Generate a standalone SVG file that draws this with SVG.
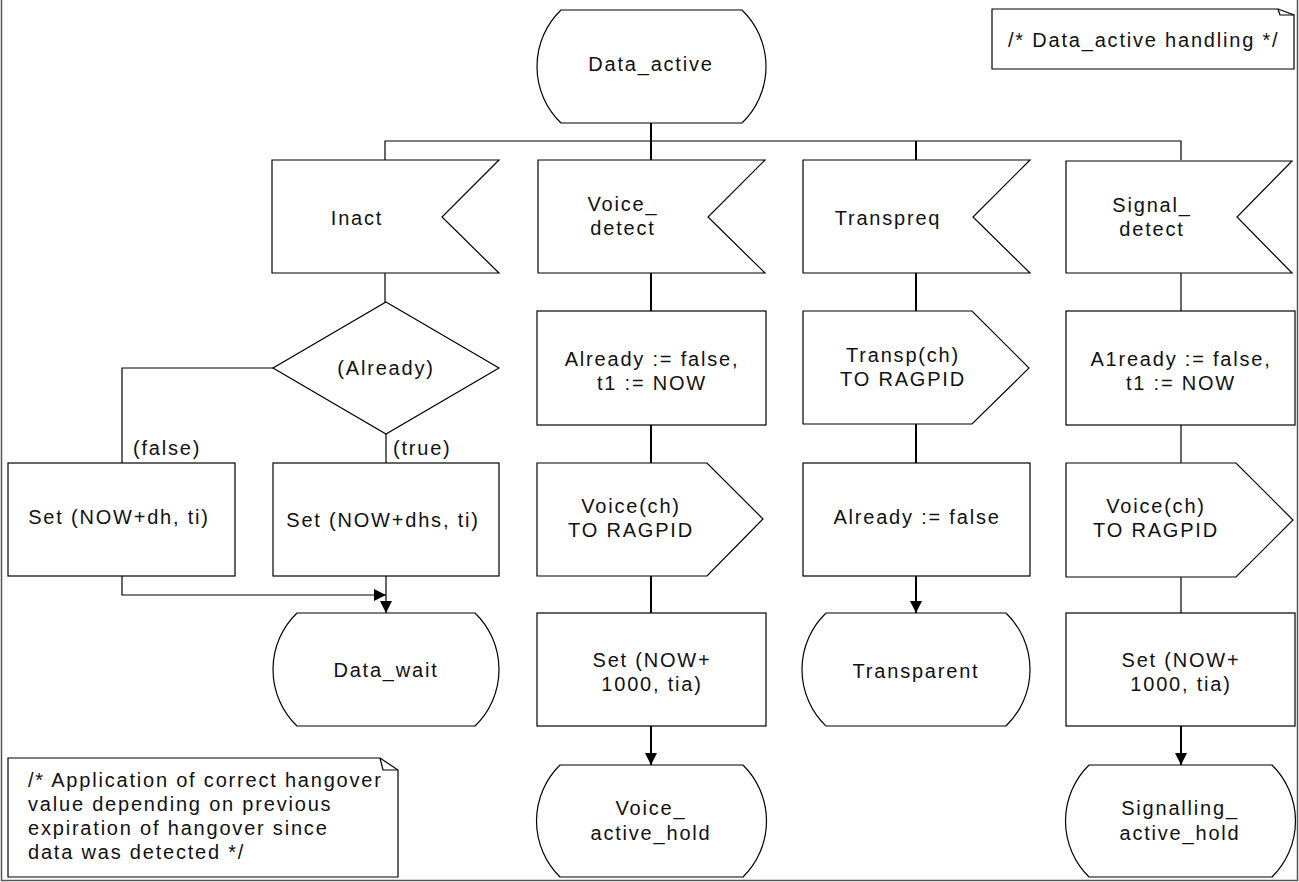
<svg xmlns="http://www.w3.org/2000/svg" width="1299" height="882" viewBox="0 0 1299 882">
<style>
.s{fill:#fff;stroke:#000;stroke-width:1.2}
.t{font-family:"Liberation Sans",Arial,sans-serif;font-size:20px;letter-spacing:1.8px;fill:#111;text-anchor:middle}
.l{text-anchor:start}
.c1{fill:none;stroke:#000;stroke-width:1.2}
.c2{fill:none;stroke:#000;stroke-width:2}
.fr{fill:none;stroke:#555;stroke-width:1.5}
</style>
<defs>
<marker id="ah" markerWidth="12" markerHeight="12" refX="12" refY="6" orient="auto" markerUnits="userSpaceOnUse">
<path d="M0,0 L12,6 L0,12 Z" fill="#000"/>
</marker>
</defs>
<rect width="1299" height="882" fill="#fff"/>
<path class="fr" d="M1.5,0 V880.5 H1297.5 V0"/>

<g id="connectors">
<path class="c2" d="M651,123 V141"/>
<path class="c1" d="M385,160 V141 H1181 V160"/>
<path class="c2" d="M651,141 V160"/>
<path class="c2" d="M916,141 V160"/>
<path class="c1" d="M385,273 V302"/>
<path class="c1" d="M273,368 H122 V463"/>
<path class="c1" d="M386,434 V463"/>
<path class="c1" d="M122,576 V595 H386" marker-end="url(#ah)"/>
<path class="c1" d="M386,576 V613" marker-end="url(#ah)"/>
<path class="c2" d="M651,273 V311"/>
<path class="c2" d="M651,425 V463"/>
<path class="c2" d="M651,576 V613"/>
<path class="c2" d="M651,726 V765" marker-end="url(#ah)"/>
<path class="c2" d="M916,273 V311"/>
<path class="c2" d="M916,424 V463"/>
<path class="c2" d="M916,576 V613" marker-end="url(#ah)"/>
<path class="c1" d="M1181,273 V311"/>
<path class="c1" d="M1181,425 V463"/>
<path class="c1" d="M1181,577 V613"/>
<path class="c2" d="M1181,726 V765" marker-end="url(#ah)"/>
<text class="t l" x="133" y="455">(false)</text>
<text class="t l" x="393" y="455">(true)</text>
</g>

<g id="data_active">
<path class="s" d="M561,10 H742 A78.5,78.5 0 0 1 742,123 H561 A78.5,78.5 0 0 1 561,10 Z"/>
<text class="t" x="651" y="71">Data_active</text>
</g>

<g id="comment_top">
<path class="s" d="M992,9 H1278 L1294,15 V69 H992 Z"/>
<path class="c1" d="M1278,9 L1280,15 H1294"/>
<text class="t l" x="1008" y="47">/* Data_active handling */</text>
</g>

<g id="inact">
<path class="s" d="M272,160 H499 L442,217 L499,273 H272 Z"/>
<text class="t" x="357" y="225">Inact</text>
</g>
<g id="voice_detect">
<path class="s" d="M538,160 H765 L708,217 L765,273 H538 Z"/>
<text class="t" x="623" y="211">Voice_</text>
<text class="t" x="623" y="235">detect</text>
</g>
<g id="transpreq">
<path class="s" d="M803,160 H1030 L973,217 L1030,273 H803 Z"/>
<text class="t" x="888" y="225">Transpreq</text>
</g>
<g id="signal_detect">
<path class="s" d="M1066,161 H1292 L1237,217 L1292,273 H1066 Z"/>
<text class="t" x="1152" y="212">Signal_</text>
<text class="t" x="1152" y="236">detect</text>
</g>

<g id="already_decision">
<path class="s" d="M386,302 L499,368 L386,434 L273,368 Z"/>
<text class="t" x="386" y="375">(Already)</text>
</g>
<g id="set_dh">
<rect class="s" x="8" y="463" width="227" height="113"/>
<text class="t" x="119" y="524">Set (NOW+dh, ti)</text>
</g>
<g id="set_dhs">
<rect class="s" x="273" y="463" width="226" height="113"/>
<text class="t" x="383" y="527">Set (NOW+dhs, ti)</text>
</g>
<g id="data_wait">
<path class="s" d="M297,613 H475 A78.5,78.5 0 0 1 475,726 H297 A78.5,78.5 0 0 1 297,613 Z"/>
<text class="t" x="386" y="677">Data_wait</text>
</g>

<g id="voice_task1">
<rect class="s" x="537" y="311" width="229" height="114"/>
<text class="t" x="652" y="366">Already := false,</text>
<text class="t" x="652" y="390">t1 := NOW</text>
</g>
<g id="voice_output">
<path class="s" d="M537,463 H707 L763,519 L707,576 H537 Z"/>
<text class="t" x="631" y="513">Voice(ch)</text>
<text class="t" x="631" y="537">TO RAGPID</text>
</g>
<g id="voice_set">
<rect class="s" x="537" y="613" width="229" height="113"/>
<text class="t" x="652" y="667">Set (NOW+</text>
<text class="t" x="652" y="691">1000, tia)</text>
</g>
<g id="voice_active_hold">
<path class="s" d="M560,765 H743 A78.5,78.5 0 0 1 743,877 H560 A78.5,78.5 0 0 1 560,765 Z"/>
<text class="t" x="651" y="815">Voice_</text>
<text class="t" x="651" y="840">active_hold</text>
</g>

<g id="transp_output">
<path class="s" d="M803,311 H972 L1029,368 L972,424 H803 Z"/>
<text class="t" x="903" y="362">Transp(ch)</text>
<text class="t" x="903" y="386">TO RAGPID</text>
</g>
<g id="transp_task">
<rect class="s" x="803" y="463" width="227" height="113"/>
<text class="t" x="917" y="524">Already := false</text>
</g>
<g id="transparent">
<path class="s" d="M826,613 H1006 A78.5,78.5 0 0 1 1006,726 H826 A78.5,78.5 0 0 1 826,613 Z"/>
<text class="t" x="916" y="678">Transparent</text>
</g>

<g id="signal_task1">
<rect class="s" x="1066" y="311" width="229" height="114"/>
<text class="t" x="1181" y="366">A1ready := false,</text>
<text class="t" x="1181" y="390">t1 := NOW</text>
</g>
<g id="signal_output">
<path class="s" d="M1066,463 H1236 L1293,520 L1236,577 H1066 Z"/>
<text class="t" x="1156" y="513">Voice(ch)</text>
<text class="t" x="1156" y="537">TO RAGPID</text>
</g>
<g id="signal_set">
<rect class="s" x="1066" y="613" width="229" height="113"/>
<text class="t" x="1181" y="667">Set (NOW+</text>
<text class="t" x="1181" y="691">1000, tia)</text>
</g>
<g id="signalling_active_hold">
<path class="s" d="M1089,765 H1272 A78.5,78.5 0 0 1 1272,877 H1089 A78.5,78.5 0 0 1 1089,765 Z"/>
<text class="t" x="1180" y="815">Signalling_</text>
<text class="t" x="1180" y="840">active_hold</text>
</g>

<g id="comment_bottom">
<path class="s" d="M8,758 H380 L398,770 V877 H8 Z"/>
<path class="c1" d="M380,758 L383,770 H398"/>
<text class="t l" x="28" y="787">/* Application of correct hangover</text>
<text class="t l" x="28" y="811">value depending on previous</text>
<text class="t l" x="28" y="835">expiration of hangover since</text>
<text class="t l" x="28" y="859">data was detected */</text>
</g>
</svg>
